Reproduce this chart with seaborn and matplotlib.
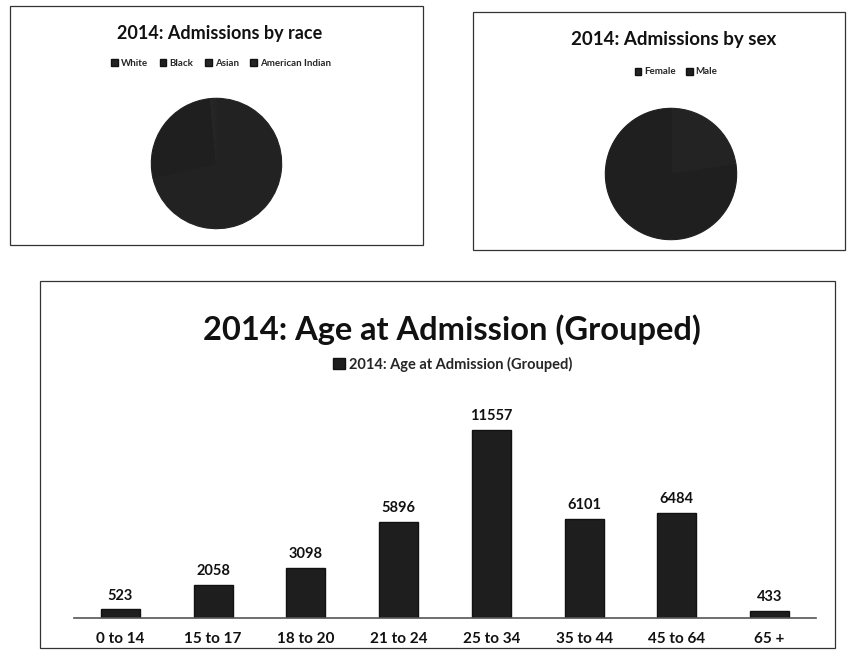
import matplotlib
matplotlib.use("Agg")
import matplotlib.pyplot as plt
import seaborn as sns
from matplotlib.patches import Rectangle

sns.set_theme(style="white")
plt.rcParams['font.family'] = ['Lato', 'DejaVu Sans']

# data
age_groups = ['0 to 14', '15 to 17', '18 to 20', '21 to 24', '25 to 34', '35 to 44', '45 to 64', '65 +']
admissions = [523, 2058, 3098, 5896, 11557, 6101, 6484, 433]

race_labels = ['White', 'Black', 'Asian', 'American Indian']
race_values = [25800, 9800, 250, 300]
race_colors = ['#222222', '#1f1f1f', '#262626', '#242424']

sex_labels = ['Female', 'Male']
sex_values = [8200, 27950]
sex_colors = ['#232323', '#1f1f1f']

W, H = 865, 669
fig = plt.figure(figsize=(W / 100, H / 100), dpi=100)


def box(x, y, w, h):
    # pixel box (from top-left) -> figure fraction
    return [x / W, 1 - (y + h) / H, w / W, h / H]


# panel frames, like the scanned chart boxes
for x0, y0, x1, y1 in [(10, 6, 423, 245), (473, 12, 845, 250), (40, 281, 835, 648)]:
    fig.patches.append(Rectangle((x0 / W, 1 - y1 / H), (x1 - x0) / W, (y1 - y0) / H,
                                 transform=fig.transFigure, fill=False,
                                 edgecolor='#333333', linewidth=0.9))

# ---- race pie
ax_r = fig.add_axes(box(150, 97, 133, 133))
wedges, _ = ax_r.pie(race_values, colors=race_colors, startangle=90, counterclock=False)
for w_, c in zip(wedges, race_colors):
    w_.set_edgecolor(c)
    w_.set_linewidth(0.8)
ax_r.set_xlim(-1.02, 1.02)
ax_r.set_ylim(-1.02, 1.02)
fig.text(220 / W, 1 - 33 / H, '2014: Admissions by race', ha='center', va='center',
         fontsize=13, fontweight='bold', color='#111111')
fig.legend(handles=[Rectangle((0, 0), 1, 1, facecolor=c, edgecolor='#111111') for c in race_colors],
           labels=race_labels, loc='center', bbox_to_anchor=(221 / W, 1 - 63 / H), ncol=4,
           frameon=False, handlelength=0.7, handleheight=0.7, handletextpad=0.3,
           columnspacing=1.2, prop={'weight': 'bold', 'size': 7})

# ---- sex pie
ax_s = fig.add_axes(box(604, 107, 134, 134))
wedges, _ = ax_s.pie(sex_values, colors=sex_colors, startangle=90, counterclock=False)
for w_, c in zip(wedges, sex_colors):
    w_.set_edgecolor(c)
    w_.set_linewidth(0.8)
ax_s.set_xlim(-1.02, 1.02)
ax_s.set_ylim(-1.02, 1.02)
fig.text(674 / W, 1 - 40 / H, '2014: Admissions by sex', ha='center', va='center',
         fontsize=13.5, fontweight='bold', color='#111111')
fig.legend(handles=[Rectangle((0, 0), 1, 1, facecolor=c, edgecolor='#111111') for c in sex_colors],
           labels=sex_labels, loc='center', bbox_to_anchor=(676 / W, 1 - 72 / H), ncol=2,
           frameon=False, handlelength=0.7, handleheight=0.7, handletextpad=0.3,
           columnspacing=1.0, prop={'weight': 'bold', 'size': 7})

# ---- age bar chart
ax = fig.add_axes(box(74, 392, 742, 226))
sns.barplot(x=age_groups, y=admissions, color='#1e1e1e', width=0.42, ax=ax,
            saturation=1, edgecolor='#111111')
ax.set_ylim(0, 13900)
ax.bar_label(ax.containers[0], padding=5, fontsize=10.5, fontweight='bold', color='#111111')
for s in ['left', 'right', 'top']:
    ax.spines[s].set_visible(False)
ax.spines['bottom'].set_color('#555555')
ax.spines['bottom'].set_linewidth(1.2)
ax.set_yticks([])
ax.set_xlabel('')
ax.set_ylabel('')
ax.set_xticks(range(len(age_groups)), age_groups, fontweight='bold', color='#111111')
ax.tick_params(axis='x', length=0, pad=10, labelsize=11)

fig.text(452 / W, 1 - 330 / H, '2014: Age at Admission (Grouped)', ha='center', va='center',
         fontsize=23.5, fontweight='bold', color='#111111')
fig.legend(handles=[Rectangle((0, 0), 1, 1, facecolor='#1e1e1e', edgecolor='#111111')],
           labels=['2014: Age at Admission (Grouped)'], loc='center',
           bbox_to_anchor=(453 / W, 1 - 364 / H), frameon=False,
           handlelength=0.8, handleheight=0.8, handletextpad=0.3,
           prop={'weight': 'bold', 'size': 10.5})

fig.savefig('out.png', dpi=100, facecolor='white')
